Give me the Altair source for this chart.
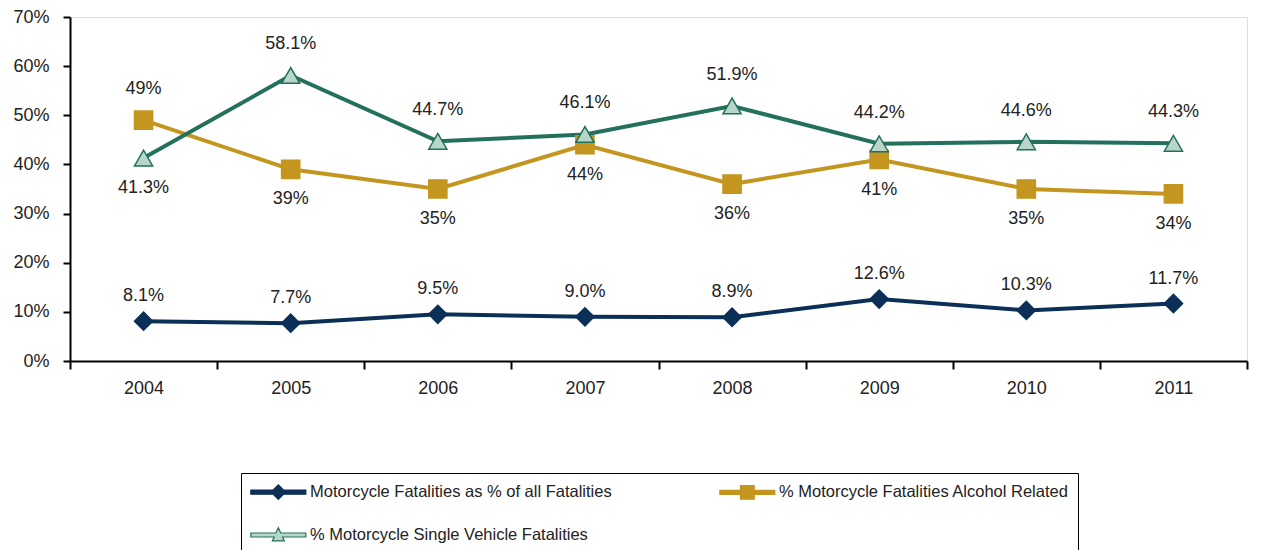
import altair as alt
import pandas as pd

years = ["2004", "2005", "2006", "2007", "2008", "2009", "2010", "2011"]
series_names = [
    "Motorcycle Fatalities as % of all Fatalities",
    "% Motorcycle Fatalities Alcohol Related",
    "% Motorcycle Single Vehicle Fatalities",
]
all_fatal = [8.1, 7.7, 9.5, 9.0, 8.9, 12.6, 10.3, 11.7]
alcohol = [49, 39, 35, 44, 36, 41, 35, 34]
single = [41.3, 58.1, 44.7, 46.1, 51.9, 44.2, 44.6, 44.3]
label_texts = [
    ["8.1%", "7.7%", "9.5%", "9.0%", "8.9%", "12.6%", "10.3%", "11.7%"],
    ["49%", "39%", "35%", "44%", "36%", "41%", "35%", "34%"],
    ["41.3%", "58.1%", "44.7%", "46.1%", "51.9%", "44.2%", "44.6%", "44.3%"],
]

stroke_colors = ["#0b2f57", "#c4961f", "#23705c"]
fill_colors = ["#0b2f57", "#c4961f", "#b7d6c9"]
shapes = ["diamond", "square", "triangle-up"]
# legend symbols: a line with the marker in its middle
legend_paths = [
    "M-1,-0.22L1.42,-0.22L2,-0.8L2.58,-0.22L5,-0.22L5,0.22L2.58,0.22L2,0.8L1.42,0.22L-1,0.22Z",
    "M-1,-0.22L1.25,-0.22L1.25,-0.75L2.75,-0.75L2.75,-0.22L5,-0.22L5,0.22L2.75,0.22L2.75,0.75L1.25,0.75L1.25,0.22L-1,0.22Z",
    "M-1,-0.22L1.74,-0.22L2,-0.8L2.26,-0.22L5,-0.22L5,0.22L2.457,0.22L2.65,0.65L1.35,0.65L1.543,0.22L-1,0.22Z",
]
FONT = "Liberation Sans, Arial, sans-serif"

rows = []
for s, vals in enumerate([all_fatal, alcohol, single]):
    for i, y in enumerate(years):
        if s == 0:
            side = "above_low"
        else:
            other = single[i] if s == 1 else alcohol[i]
            side = "above" if vals[i] >= other else "below"
        rows.append({"year": y, "series": series_names[s], "value": vals[i],
                     "label": label_texts[s][i], "side": side})
df = pd.DataFrame(rows)

# legend grid fills column-wise: order so row 1 = series 1, 2 and row 2 = series 3
legend_order = [series_names[0], series_names[2], series_names[1]]
order_idx = [series_names.index(n) for n in legend_order]

x_enc = alt.X("year:O", scale=alt.Scale(type="band", paddingInner=0, paddingOuter=0),
              axis=alt.Axis(title=None, labelAngle=0, tickBand="extent", tickSize=8,
                            tickWidth=2, tickColor="black", domainColor="black",
                            domainWidth=2, labelPadding=10, labelFontSize=18,
                            labelFont=FONT, labelColor="#222"))
y_enc = alt.Y("value:Q", scale=alt.Scale(domain=[0, 70]),
              axis=alt.Axis(title=None, values=list(range(0, 71, 10)),
                            labelExpr="datum.value + '%'", grid=False, tickSize=7,
                            tickWidth=2, tickColor="black", domainColor="black",
                            domainWidth=2, labelPadding=14, labelFontSize=18,
                            labelFont=FONT, labelColor="#222"))

legend = alt.Legend(title=None, orient="none", legendX=171, legendY=456, columns=2,
                    columnPadding=105, rowPadding=23, padding=9,
                    strokeColor="black", fillColor="white", labelFont=FONT,
                    labelFontSize=16.5, labelColor="#222", labelLimit=500,
                    labelOffset=40, symbolSize=336, symbolStrokeWidth=1.2)
color_scale = alt.Scale(domain=legend_order, range=[stroke_colors[i] for i in order_idx])
fill_scale = alt.Scale(domain=legend_order, range=[fill_colors[i] for i in order_idx])
shape_scale = alt.Scale(domain=legend_order, range=[legend_paths[i] for i in order_idx])

color_enc = alt.Color("series:N", scale=color_scale, legend=legend)
fill_enc = alt.Fill("series:N", scale=fill_scale, legend=legend)

lines = alt.Chart(df).mark_line(strokeWidth=4).encode(
    x=x_enc, y=y_enc, color=color_enc, detail="series:N")

point_layers = []
for s in range(3):
    point_layers.append(
        alt.Chart(df).transform_filter(alt.datum.series == series_names[s])
        .mark_point(shape=shapes[s], filled=False, size=330, strokeWidth=1.5, opacity=1)
        .encode(x=x_enc, y=y_enc, color=color_enc, fill=fill_enc)
    )

legend_layer = alt.Chart(df).transform_filter("false").mark_point(
    filled=False, strokeWidth=1.2, opacity=1).encode(
    x=x_enc, y=y_enc, color=color_enc, fill=fill_enc,
    shape=alt.Shape("series:N", scale=shape_scale, legend=legend))

text_layers = []
for side, dy in [("above_low", -25), ("above", -31), ("below", 30)]:
    text_layers.append(
        alt.Chart(df).transform_filter(alt.datum.side == side).mark_text(
            dy=dy, fontSize=18, font=FONT, color="#222").encode(
            x=x_enc, y=y_enc, text="label:N"))

chart = alt.layer(lines, *point_layers, legend_layer, *text_layers).properties(
    width=1177, height=344,
    autosize=alt.AutoSizeParams(type="none"),
    padding={"left": 62, "top": 9, "right": 6, "bottom": 189},
).configure_view(stroke=None).configure(background="white")

chart.save("out.html", embed_options={"renderer": "svg", "actions": False})
